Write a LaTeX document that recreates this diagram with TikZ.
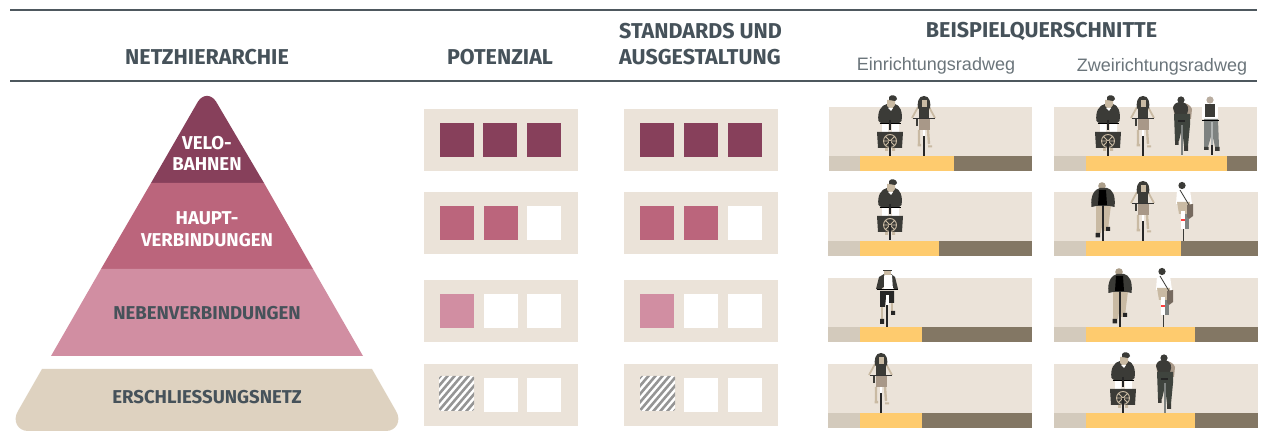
\documentclass[tikz,border=0pt]{standalone}
\usepackage{fontspec}
\setmainfont{Fira Sans}
\newfontfamily\lightf{Liberation Sans}
\definecolor{ink}{HTML}{46525A}
\definecolor{rule}{HTML}{4E585E}
\definecolor{velo}{HTML}{87405B}
\definecolor{haupt}{HTML}{BB657C}
\definecolor{neben}{HTML}{D18EA2}
\definecolor{basec}{HTML}{DED2C0}
\definecolor{beige}{HTML}{EBE3D9}
\definecolor{yel}{HTML}{FECB6E}
\definecolor{grs}{HTML}{D3CABC}
\definecolor{brn}{HTML}{837764}
\definecolor{dk}{HTML}{3B3B37}
\definecolor{skin}{HTML}{C9BAA3}
\definecolor{bsk}{HTML}{A89888}
\definecolor{trs}{HTML}{3F443E}
\definecolor{gtr}{HTML}{7E8280}
\definecolor{hat}{HTML}{959595}
\tikzset{
 head/.style={font=\bfseries\fontsize{21.5}{26}\selectfont,text=ink,align=left,inner sep=0pt},
 sub/.style={font=\lightf\fontsize{18}{20}\selectfont,text=ink!80,inner sep=0pt},
 plab/.style={font=\bfseries\fontsize{18.6}{21.5}\selectfont,align=center,inner sep=0pt},
 wheel/.style={draw=black!85,line width=1.3pt},
 cargo/.pic={
  \fill[white] (-8,-32) rectangle (-2,-24) (2,-32) rectangle (9,-24);
  \fill[dk] (-11.5,-35) .. controls (-13,-44) and (-9,-51) .. (-3,-52) -- (5,-52) .. controls (10,-51) and (13,-44) .. (11.5,-35) -- (8,-32) -- (-8,-32) -- cycle;
  \fill[skin] (-3,-56) -- (5,-56) -- (5,-51) -- (1,-46) -- (-3,-50) -- cycle;
  \fill[white] (-2,-48) -- (3,-48) -- (1,-45) -- cycle;
  \fill[dk] (-1,-59) .. controls (1,-62) and (7,-61) .. (7,-57) -- (5,-55) -- (-1,-56) -- cycle;
  \draw[black,line width=.9pt] (-10.5,-33) -- (10.5,-33);
  \fill[dk] (-13,-24) -- (13,-24) -- (12,-8) -- (-12,-8) -- cycle;
  \draw[skin,line width=.9pt] (0,-15) circle[radius=6.5] (-6.5,-15) -- (6.5,-15) (-4.6,-19.6) -- (4.6,-10.4) (4.6,-19.6) -- (-4.6,-10.4);
  \fill[skin] (-5,-8) rectangle (-2,-5) (2,-8) rectangle (5,-5);
  \draw[wheel] (0,-36) -- (0,-26) (0,-15) -- (0,0);
 },
 woman/.pic={
  \draw[skin,line width=1.8pt] (-6,-49) -- (-12,-38) (5,-49) -- (11,-38);
  \draw[skin,line width=2.4pt] (-5,-26) -- (-5,-12) (4,-26) -- (5,-12);
  \fill[skin] (-6.5,-12) rectangle (-3,-9.5) (4,-10.5) rectangle (8,-8.5);
  \fill[dk] (-5,-50) rectangle (5,-37);
  \fill[dk] (0,-60) .. controls (-6,-60) and (-7,-53) .. (-6,-47) -- (-3,-50) -- (3,-50) -- (6,-47) .. controls (7,-53) and (6,-60) .. (0,-60) -- cycle;
  \fill[skin] (-2.5,-56) rectangle (2.5,-49);
  \draw[black!80,line width=.7pt] (-11,-38) -- (11,-38);
  \fill[bsk] (-5.5,-37) rectangle (5.5,-26);
  \fill[dk] (-8,-37) rectangle (-6,-30);
  \fill[white] (-1.2,-26) rectangle (1.2,-16);
  \draw[wheel] (0,-20) -- (0,0);
 },
 backr/.pic={
  \fill[bsk] (-9,-48) .. controls (-7,-54) and (7,-54) .. (10,-46) -- (9,-36) -- (-7,-36) -- cycle;
  \fill[dk] (-9,-47) .. controls (-8,-52) and (-5,-53) .. (0,-53) .. controls (7,-51) and (7,-46) .. (5,-41) -- (-7,-41) -- cycle;
  \fill[dk] (-1,-55) circle[radius=3.6];
  \fill[trs] (-8,-41) -- (8,-41) -- (8,-30) -- (6,-9) -- (2,-9) -- (0,-27) -- (-3,-14) -- (-7,-14) -- cycle;
  \fill[dk] (-7,-15) rectangle (-3.5,-10) (2,-9) rectangle (6,-4);
  \fill[black!85] (-4,-35) rectangle (3,-33);
  \draw[gtr,line width=1.5pt] (0,-30) -- (0,0);
 },
 packr/.pic={
  \fill[bsk!80] (-2,-57) circle[radius=3.6];
  \fill[white] (-10,-53) -- (6,-53) -- (6,-38) -- (-10,-38) -- cycle;
  \fill[dk] (-7,-53) rectangle (3,-40);
  \fill[gtr] (-8,-38) -- (6,-38) -- (7,-10) -- (3,-10) -- (0,-24) -- (-4,-10) -- (-8,-10) -- cycle;
  \fill[dk] (-8,-10) rectangle (-3.5,-7) (3,-10) rectangle (7.5,-6);
  \draw[black,line width=1pt] (-10,-36) -- (7,-36);
  \draw[wheel] (0,-12) -- (0,-2);
  \draw[gtr!60!white,line width=1.2pt] (0,-35) -- (0,-12);
 },
 oldm/.pic={
  \fill[skin] (-7,-36) -- (8,-36) -- (6,-20) -- (5,-10) -- (1,-10) -- (0,-22) -- (-2,-8) -- (-7,-8) -- cycle;
  \fill[skin!85!black] (-1,-55) circle[radius=3.8];
  \fill[dk] (-11.5,-34) .. controls (-13,-46) and (-8,-52) .. (-3,-53) -- (4,-53) .. controls (9,-52) and (13,-46) .. (11.5,-34) -- (7,-35) -- (-7,-35) -- cycle;
  \fill[black] (-4,-51) -- (3,-51) -- (4,-36) -- (-5,-36) -- cycle;
  \fill[black!85] (-7.5,-8) rectangle (-3,-3.5) (3,-14) rectangle (7,-10);
  \draw[wheel] (0,-36) -- (0,0);
 },
 mess/.pic={
  \fill[white] (-6,-51) -- (7,-51) -- (9,-37) -- (-7,-37) -- cycle;
  \fill[dk] (-1,-55.5) circle[radius=3.6];
  \fill[skin] (-6,-39) -- (7,-39) -- (6,-27) -- (-4,-27) -- cycle;
  \draw[dk,line width=.8pt] (-3,-51) -- (6,-36);
  \fill[gtr] (2,-27) rectangle (6,-12);
  \fill[bsk!70!black] (4,-36) -- (10,-37) -- (10,-25) -- (6,-22) -- (4,-24) -- cycle;
  \fill[white] (-2,-30) rectangle (2,-12);
  \fill[red!75!white] (-2,-22) rectangle (2,-20);
  \draw[dk,line width=1pt] (0,-12) -- (0,0);
 },
 helm/.pic={
  \fill[skin] (-3,-57) rectangle (4,-52);
  \fill[white] (-4,-57) .. controls (-3,-61) and (4,-61) .. (5,-57) -- cycle;
  \draw[dk,line width=.7pt] (-4,-56.5) -- (5,-56.5);
  \fill[dk] (-11,-38) -- (-8,-50) -- (-3,-53) -- (-1,-42) -- (-7,-37) -- cycle;
  \fill[dk] (11,-38) -- (8,-50) -- (4,-53) -- (4,-42) -- (8,-37) -- cycle;
  \fill[white] (-3,-51) -- (5,-52) -- (6,-37) -- (-3,-37) -- cycle;
  \draw[black,line width=1pt] (-10,-37) -- (11,-37);
  \fill[black!85] (-7,-36) -- (7,-36) -- (7,-24) -- (2,-24) -- (-1,-30) -- (-2,-20) -- (-7,-20) -- cycle;
  \draw[skin,line width=2.2pt] (-5,-20) -- (-5,-8);
  \draw[skin,line width=2.2pt] (5,-24) -- (5,-14);
  \fill[black!85] (-7,-8) rectangle (-3,-3) (4,-16) rectangle (8,-12);
  \fill[white] (-1.5,-32) rectangle (1.5,-22);
  \draw[wheel] (0,-22) -- (0,0);
 }
}
\newcommand{\squares}[7]{%
 \fill[beige] (#1,#2) rectangle ++(154,62);
 \fill[#3] (#1+16,#2+14) rectangle ++(34,34);
 \fill[#4] (#1+#6,#2+14) rectangle ++(34,34);
 \fill[#5] (#1+#7,#2+14) rectangle ++(34,34);}
\newcommand{\hatchbox}[2]{%
 \begin{scope}
  \clip[rounded corners=1.5pt] (#1,#2) rectangle ++(35,35);
  \fill[white] (#1,#2) rectangle ++(35,35);
  \foreach \k in {0,7,...,70}{\draw[hat,line width=2.6pt] (#1-3+\k-35,#2+38) -- (#1-3+\k,#2-3);}
 \end{scope}}
\newcommand{\xsec}[6]{%
 \fill[beige] (#1,#2) rectangle (#1+#6,#3);
 \fill[grs] (#1,#3) rectangle (#4,#3+15);
 \fill[yel] (#4,#3) rectangle (#5,#3+15);
 \fill[brn] (#5,#3) rectangle (#1+#6,#3+15);}
\begin{document}
\begin{tikzpicture}[x=1pt,y=-1pt]
\useasboundingbox (0,0) rectangle (1262,438);
\fill[white] (0,0) rectangle (1262,438);
\draw[rule,line width=2pt] (10,10.5) -- (1257,10.5);
\draw[rule,line width=2pt] (10,81.5) -- (1257,81.5);
\node[head] (tnetz) at (207,57.5) {NETZHIERARCHIE};
\node[head] (tpot) at (500,57.5) {POTENZIAL};
\node[head,anchor=west] (tstd) at (619,44.5) {STANDARDS UND\\AUSGESTALTUNG};
\node[head] (tbsp) at (1041.5,31.5) {BEISPIELQUERSCHNITTE};
\node[sub] (tein) at (936,65.5) {Einrichtungsradweg};
\node[sub] (tzwei) at (1162,66.5) {Zweirichtungsradweg};
% pyramid
\fill[velo] (151,183) -- (198,101.5) .. controls (203,94) and (211,94) .. (216,101.5) -- (264,183) -- cycle;
\fill[haupt] (151,183) -- (264,183) -- (313,269) -- (101,269) -- cycle;
\fill[neben] (101,269) -- (313,269) -- (363,356) -- (51,356) -- cycle;
\fill[basec] (42,369) -- (372,369) -- (396,411) .. controls (402,421) and (396,431) .. (386,431) -- (28,431) .. controls (18,431) and (12,421) .. (18,411) -- cycle;
\node[plab,text=white] (lvelo) at (207,153.5) {VELO-\\BAHNEN};
\node[plab,text=white] (lhaupt) at (207,229) {HAUPT-\\VERBINDUNGEN};
\node[plab,text=ink] (lneben) at (207,313.5) {NEBENVERBINDUNGEN};
\node[plab,text=ink] (lerschl) at (207,397.5) {ERSCHLIESSUNGSNETZ};
% squares
\squares{424}{109}{velo}{velo}{velo}{59}{103}
\squares{424}{192}{haupt}{haupt}{white}{60}{103}
\squares{424}{280}{neben}{white}{white}{60}{103}
\squares{424}{364}{beige}{white}{white}{60}{103}
\hatchbox{439}{376}
\squares{624}{109}{velo}{velo}{velo}{60}{104}
\squares{624}{192}{haupt}{haupt}{white}{60}{104}
\squares{624}{280}{neben}{white}{white}{60}{104}
\squares{624}{364}{beige}{white}{white}{60}{104}
\hatchbox{640}{376}
% cross-sections
\xsec{829}{107}{156}{860}{954}{203}
\xsec{828}{192}{241}{860}{939}{204}
\xsec{828}{278}{327}{860}{922}{204}
\xsec{828}{364}{413}{860}{922}{204}
\xsec{1054}{107}{156}{1086}{1227}{203}
\xsec{1054}{192}{241}{1086}{1181}{204}
\xsec{1054}{278}{327}{1086}{1195}{204}
\xsec{1054}{364}{413}{1086}{1195}{204}
% riders
\pic at (890,156) {cargo};
\pic at (924,156) {woman};
\pic at (1108,156) {cargo};
\pic at (1143,156) {woman};
\pic at (1182,155) {backr};
\pic at (1212,157) {packr};
\pic at (890,240) {cargo};
\pic at (1103,241) {oldm};
\pic at (1143,241) {woman};
\pic at (1183,241) {mess};
\pic at (887,327) {helm};
\pic at (1120,327) {oldm};
\pic at (1163,327) {mess};
\pic at (881,413) {woman};
\pic at (1123,413) {cargo};
\pic at (1165,413) {backr};
\end{tikzpicture}
\end{document}
